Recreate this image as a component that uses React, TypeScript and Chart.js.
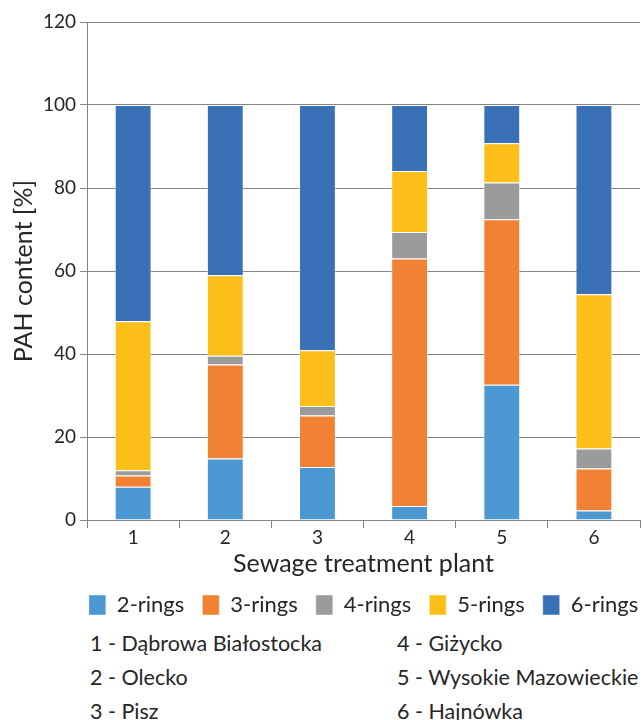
import React, { useEffect, useRef } from "react";
import { Chart, registerables } from "chart.js";

Chart.register(...registerables);

const categories = ["1", "2", "3", "4", "5", "6"];
const seriesNames = ["2-rings", "3-rings", "4-rings", "5-rings", "6-rings"];
const ring2 = [8.0, 14.8, 12.8, 3.4, 32.6, 2.3];
const ring3 = [2.7, 22.7, 12.4, 59.6, 39.9, 10.1];
const ring4 = [1.3, 2.1, 2.3, 6.4, 8.8, 4.8];
const ring5 = [35.9, 19.4, 13.4, 14.7, 9.5, 37.2];
const ring6 = [52.1, 41.0, 59.1, 15.9, 9.2, 45.6];
const colors = ["#4B98D2", "#F18133", "#9A9C9C", "#FCBE18", "#3A70B6"];
const plantsLeft = ["1 - Dąbrowa Białostocka", "2 - Olecko", "3 - Pisz"];
const plantsRight = ["4 - Giżycko", "5 - Wysokie Mazowieckie", "6 - Hajnówka"];

const FONT = "Lato";
const TEXT = "#262626";
const GRID = "#858585";

// centre the legend row over the plot area, as in the reference
const legendOverPlot = {
  id: "legendOverPlot",
  afterLayout(chart: any) {
    const lg = chart.legend;
    if (!lg || !lg.lineWidths) return;
    const pad = lg.options.labels.padding;
    const lw = lg.lineWidths[0];
    const ca = chart.chartArea;
    const start = ca.left + (ca.right - ca.left - (lw - pad)) / 2;
    lg.right = chart.width + 200;
    lg.left = 2 * start - pad - lg.right + lw;
    lg.width = lg.right - lg.left;
  },
};

export default function App() {
  const ref = useRef<HTMLCanvasElement | null>(null);

  useEffect(() => {
    if (!ref.current) return;
    const values = [ring2, ring3, ring4, ring5, ring6];
    const chart = new Chart(ref.current, {
      type: "bar",
      data: {
        labels: categories,
        datasets: values.map((v, i) => ({
          label: seriesNames[i],
          data: v,
          backgroundColor: colors[i],
          borderColor: "rgba(255,255,255,0.45)",
          borderWidth: 1,
          barPercentage: 0.4,
          categoryPercentage: 1.0,
        })),
      },
      options: {
        responsive: false,
        maintainAspectRatio: false,
        animation: false,
        layout: { padding: { left: 4, right: 3, top: 22, bottom: 4 } },
        plugins: {
          tooltip: { enabled: false },
          legend: {
            position: "bottom",
            labels: {
              boxWidth: 17,
              boxHeight: 20,
              padding: 18,
              color: TEXT,
              font: { family: FONT, size: 22 },
            },
          },
        },
        scales: {
          x: {
            stacked: true,
            grid: {
              offset: true,
              drawOnChartArea: false,
              drawTicks: true,
              tickLength: 8,
              color: GRID,
            },
            border: { color: GRID },
            ticks: { color: TEXT, font: { family: FONT, size: 19, lineHeight: 1.0 }, padding: 0 },
            title: {
              display: true,
              text: "Sewage treatment plant",
              color: TEXT,
              font: { family: FONT, size: 25, lineHeight: 1.0 },
              padding: { top: 4, bottom: 0 },
            },
          },
          y: {
            stacked: true,
            min: 0,
            max: 120,
            ticks: { stepSize: 20, color: TEXT, font: { family: FONT, size: 19 }, padding: 4 },
            grid: { color: GRID, tickLength: 7, drawTicks: true },
            border: { color: GRID },
            title: {
              display: true,
              text: "PAH content [%]",
              color: TEXT,
              font: { family: FONT, size: 25 },
              padding: { top: 5, bottom: 0 },
            },
          },
        },
      },
      plugins: [legendOverPlot],
    });
    return () => chart.destroy();
  }, []);

  const textStyle: React.CSSProperties = {
    position: "absolute",
    fontFamily: FONT,
    fontSize: 21.5,
    lineHeight: "26px",
    color: TEXT,
    whiteSpace: "nowrap",
  };

  return (
    <div
      style={{
        position: "fixed",
        left: 0,
        top: 0,
        width: 643,
        height: 720,
        background: "#fff",
        overflow: "hidden",
      }}
    >
      <canvas
        ref={ref}
        width={643}
        height={630}
        style={{ position: "absolute", left: 0, top: 0, width: 643, height: 630 }}
      />
      {plantsLeft.map((t, i) => (
        <div key={"l" + i} style={{ ...textStyle, left: 90, top: 630 + i * 34 }}>
          {t}
        </div>
      ))}
      {plantsRight.map((t, i) => (
        <div key={"r" + i} style={{ ...textStyle, left: 397, top: 630 + i * 34 }}>
          {t}
        </div>
      ))}
    </div>
  );
}
